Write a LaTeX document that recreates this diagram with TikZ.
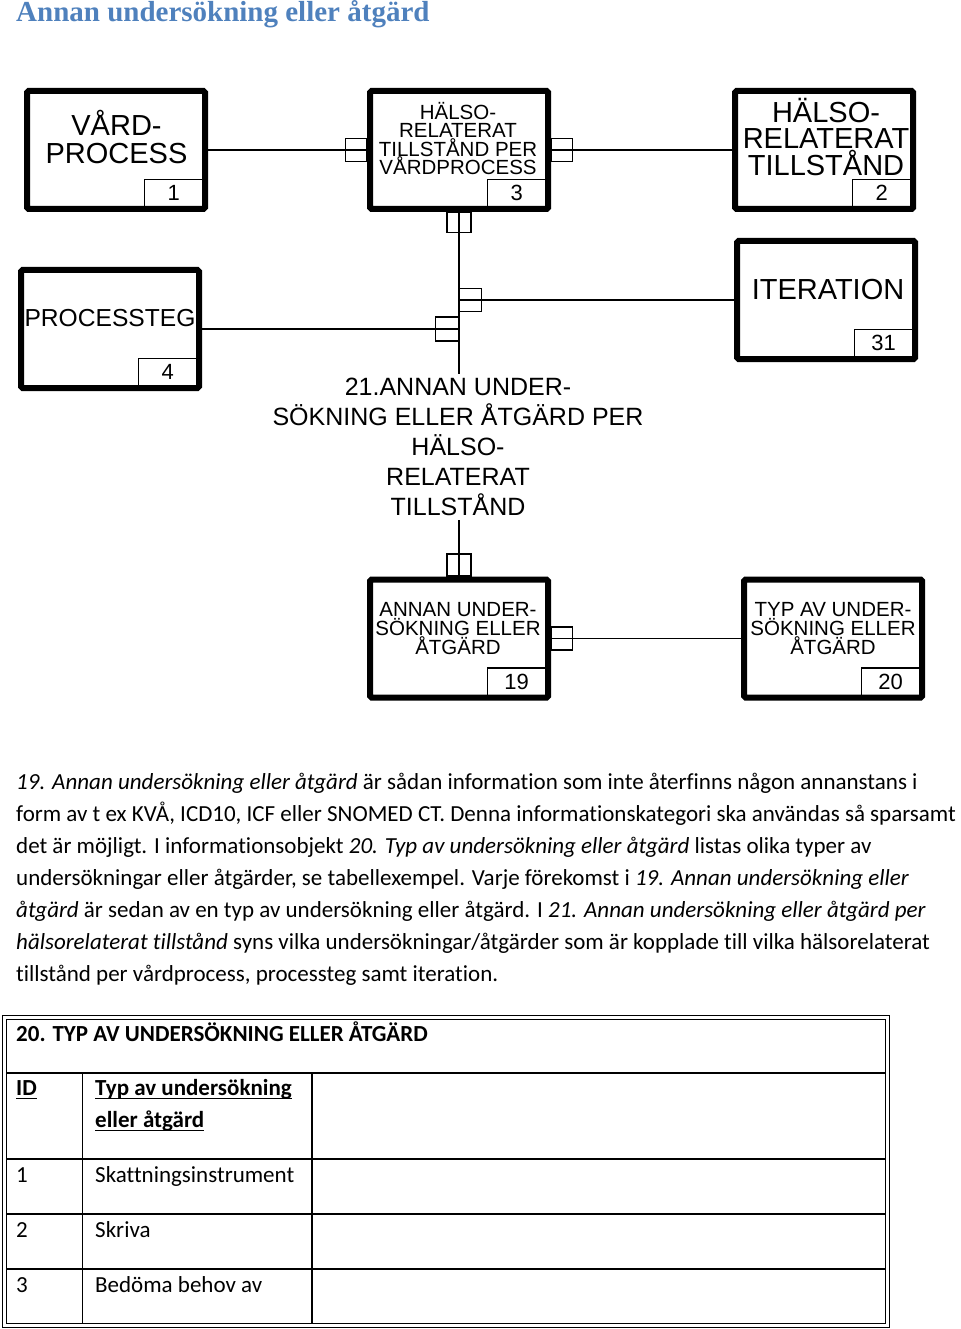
\documentclass[tikz,border=0pt]{standalone}
\usepackage{fontspec}
\setmainfont{Carlito}[Ligatures=NoCommon]
\newfontfamily\arialf{Liberation Sans}
\newfontfamily\headf{Liberation Serif}
\definecolor{headblue}{RGB}{79,129,189}
\begin{document}
\begin{tikzpicture}[x=1pt,y=-1pt,
 ent/.style={draw,line width=6pt,rounded corners=1.5pt,minimum width=178pt,minimum height=118pt,inner sep=0pt},
 numbox/.style={draw,line width=1.2pt,minimum width=58.5pt,minimum height=27.5pt,inner sep=0pt,anchor=south east,font=\arialf\fontsize{22}{22}\selectfont},
 mk/.style={draw,line width=1.3pt,inner sep=0pt},
 mkh/.style={mk,minimum width=21pt,minimum height=23pt},
 conn/.style={line width=1.4pt},
 big/.style={font=\arialf\fontsize{29}{27.7}\selectfont,align=center,inner sep=0pt},
 small/.style={font=\arialf\fontsize{20.5}{18.6}\selectfont,align=center,inner sep=0pt},
 mid/.style={font=\arialf\fontsize{25}{30}\selectfont,align=center,inner sep=4pt},
 body/.style={anchor=base west,inner sep=0pt,font=\fontsize{23}{32}\selectfont},
 tb/.style={anchor=base west,inner sep=0pt,font=\bfseries\fontsize{23}{32}\selectfont},
 tline/.style={line width=1.5pt},
 dline/.style={line width=1pt},
]
\fill[white] (0,0) rectangle (960,1329);
\useasboundingbox (0,0) rectangle (960,1329);

% title
\node[anchor=base west,inner sep=0pt,font=\headf\bfseries\fontsize{29}{29}\selectfont,text=headblue] (title) at (16,22) {Annan undersökning eller åtgärd};

% entities
\node[ent] (b1) at (116,150) {};
\node[ent] (b3) at (459,150) {};
\node[ent] (b2) at (824,150) {};
\node[ent] (it) at (826,300) {};
\node[ent] (ps) at (110,329) {};
\node[ent] (b19) at (459,638.5) {};
\node[ent] (b20) at (833,638.5) {};

% entity texts
\node[big] (t1) at (116.5,137) {VÅRD-\\PROCESS};
\node[small] (t3) at (458,138.5) {HÄLSO-\\RELATERAT\\TILLSTÅND PER\\VÅRDPROCESS};
\node[big,font=\arialf\fontsize{29}{26.5}\selectfont] (t2) at (826,136.7) {HÄLSO-\\RELATERAT\\TILLSTÅND};
\node[big] (tit) at (828,290) {ITERATION};
\node[big,font=\arialf\fontsize{24.6}{26}\selectfont] (tps) at (110,318) {PROCESSTEG};
\node[small] (t19) at (458,628.6) {ANNAN UNDER-\\SÖKNING ELLER\\ÅTGÄRD};
\node[small] (t20) at (833,628.6) {TYP AV UNDER-\\SÖKNING ELLER\\ÅTGÄRD};
\node[mid] (t21) at (458,447) {21.ANNAN UNDER-\\SÖKNING ELLER ÅTGÄRD PER\\HÄLSO-\\RELATERAT\\TILLSTÅND};

% number boxes
\node[numbox] (n1) at ([shift={(-4.5,-4.5)}]b1.south east) {1};
\node[numbox] (n3) at ([shift={(-4.5,-4.5)}]b3.south east) {3};
\node[numbox] (n2) at ([shift={(-4.5,-4.5)}]b2.south east) {2};
\node[numbox] (nit) at ([shift={(-4.5,-4.5)}]it.south east) {31};
\node[numbox] (nps) at ([shift={(-4.5,-4.5)}]ps.south east) {4};
\node[numbox] (n19) at ([shift={(-4.5,-4.5)}]b19.south east) {19};
\node[numbox] (n20) at ([shift={(-4.5,-4.5)}]b20.south east) {20};

% junctions on the vertical line
\coordinate (j1) at (b3.south |- it.west);
\coordinate (j2) at (b3.south |- ps.east);

% markers
\node[mkh,anchor=east] (m3l) at (b3.west) {};
\node[mkh,anchor=west] (m3r) at (b3.east) {};
\node[mk,minimum width=24pt,minimum height=20pt,anchor=north] (m3b) at (b3.south) {};
\node[mk,minimum width=22pt,minimum height=23pt,anchor=west] (mit) at (j1) {};
\node[mk,minimum width=23pt,minimum height=24pt,anchor=east] (mps) at (j2) {};
\node[mk,minimum width=24pt,minimum height=22pt,anchor=south] (m19t) at (b19.north) {};
\node[mkh,anchor=west] (m19r) at (b19.east) {};

% connectors
\draw[conn] (b1.east) -- (b3.west);
\draw[conn] (b3.east) -- (b2.west);
\draw[conn] (b3.south) -- (b3.south |- t21.north);
\draw[conn] (b19.north |- t21.south) -- (b19.north);
\draw[conn] (j1) -- (it.west);
\draw[conn] (ps.east) -- (j2);
\draw[conn] (b19.east) -- (b20.west);

% body text
\node[body] (p1) at (16,789) {\textit{19. Annan undersökning eller åtgärd} är sådan information som inte återfinns någon annanstans i};
\node[body] (p2) at (16,821) {form av t ex KVÅ, ICD10, ICF eller SNOMED CT. Denna informationskategori ska användas så sparsamt};
\node[body] (p3) at (16,853) {det är möjligt. I informationsobjekt \textit{20. Typ av undersökning eller åtgärd} listas olika typer av};
\node[body] (p4) at (16,885) {undersökningar eller åtgärder, se tabellexempel. Varje förekomst i \textit{19. Annan undersökning eller}};
\node[body] (p5) at (16,917) {\textit{åtgärd} är sedan av en typ av undersökning eller åtgärd. I \textit{21. Annan undersökning eller åtgärd per}};
\node[body] (p6) at (16,949) {\textit{hälsorelaterat tillstånd} syns vilka undersökningar/åtgärder som är kopplade till vilka hälsorelaterat};
\node[body] (p7) at (16,981) {tillstånd per vårdprocess, processteg samt iteration.};

% table
\draw[dline] (2,1015) rectangle (889,1327);
\draw[dline] (6,1019) rectangle (885,1323);
\draw[tline] (6,1073) -- (885,1073);
\draw[tline] (6,1159) -- (885,1159);
\draw[tline] (6,1214) -- (885,1214);
\draw[tline] (6,1269) -- (885,1269);
\draw[tline] (82.5,1073) -- (82.5,1323);
\draw[tline] (312,1073) -- (312,1323);

\node[tb] (th) at (16,1041) {20. TYP AV UNDERSÖKNING ELLER ÅTGÄRD};
\node[tb] (hid) at (16,1095) {ID};
\node[tb] (hty1) at (95,1095) {Typ av undersökning};
\node[tb] (hty2) at (95,1127) {eller åtgärd};
\draw[line width=1.4pt] ([yshift=-3.5]hid.base west) -- ([yshift=-3.5]hid.base east);
\draw[line width=1.4pt] ([yshift=-3.5]hty1.base west) -- ([yshift=-3.5]hty1.base east);
\draw[line width=1.4pt] ([yshift=-3.5]hty2.base west) -- ([yshift=-3.5]hty2.base east);
\node[body] (r1a) at (16,1182) {1};
\node[body] (r1b) at (95,1182) {Skattningsinstrument};
\node[body] (r2a) at (16,1237) {2};
\node[body] (r2b) at (95,1237) {Skriva};
\node[body] (r3a) at (16,1292) {3};
\node[body] (r3b) at (95,1292) {Bedöma behov av};
\end{tikzpicture}
\end{document}
